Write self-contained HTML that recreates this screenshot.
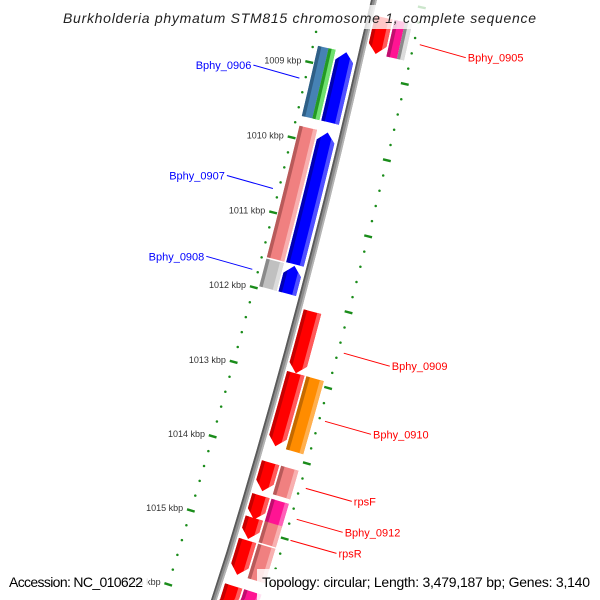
<!DOCTYPE html>
<html><head><meta charset="utf-8"><style>
html,body{margin:0;padding:0;background:#fff;width:600px;height:600px;overflow:hidden;}
svg{display:block;font-family:"Liberation Sans",sans-serif;}
</style></head><body>
<svg id="map" width="600" height="600" viewBox="0 0 600 600">
  <g id="plot"></g>
  <rect x="58" y="5" width="484" height="24" fill="#fff" fill-opacity="0.78"/>
  <text x="63" y="23" font-size="14" font-style="italic" fill="#222" textLength="473" lengthAdjust="spacing">Burkholderia phymatum STM815 chromosome 1, complete sequence</text>
  <rect x="4" y="572" width="144" height="28" fill="#fff" fill-opacity="0.82"/>
  <text x="9" y="587" font-size="14" fill="#000" textLength="134" lengthAdjust="spacing">Accession: NC_010622</text>
  <rect x="257" y="569" width="339" height="31" fill="#fff" fill-opacity="0.82"/>
  <text x="262" y="587" font-size="14" fill="#000" textLength="328" lengthAdjust="spacing">Topology: circular; Length: 3,479,187 bp; Genes: 3,140</text>
</svg>
<script>
// ---- data ----
const fwdStarts = [1008.23, 1012.11, 1012.93, 1014.12, 1014.56, 1014.86, 1015.16, 1015.77];
const fwdEnds   = [1008.71, 1012.93, 1013.90, 1014.50, 1014.88, 1015.14, 1015.62, 1016.40];
const fwdCog    = ['magenta-gray', null, 'orange', 'pink', 'magenta', 'pink', 'pink', 'magenta'];
const revStarts = [1008.77, 1009.83, 1011.60];
const revEnds   = [1009.70, 1011.58, 1011.97];
const revCog    = ['steelblue-green', 'pink', 'gray'];
const labelNames = ['Bphy_0905','Bphy_0906','Bphy_0907','Bphy_0908','Bphy_0909','Bphy_0910','rpsF','Bphy_0912','rpsR'];
const labelKbp   = [1008.47, 1009.23, 1010.70, 1011.78, 1012.52, 1013.42, 1014.31, 1014.72, 1015.00];
const labelSide  = [1, -1, -1, -1, 1, 1, 1, 1, 1];
const majorTicks = [1008, 1009, 1010, 1011, 1012, 1013, 1014, 1015, 1016];

// ---- geometry ----
const NS = 'http://www.w3.org/2000/svg';
const svg = document.getElementById('plot');
const A = {x:357, y:73}, E = {x:215, y:599}, R = 7000, K0 = 1009, K1 = 1016;
const L = Math.hypot(E.x-A.x, E.y-A.y);
const ux = (E.x-A.x)/L, uy = (E.y-A.y)/L;
const h = Math.sqrt(R*R - L*L/4);
const C = {x:(A.x+E.x)/2 - h*uy, y:(A.y+E.y)/2 + h*ux};
if (C.x > A.x) { C.x = (A.x+E.x)/2 + h*uy; C.y = (A.y+E.y)/2 - h*ux; }
const phiA = Math.atan2(A.y-C.y, A.x-C.x), phiE = Math.atan2(E.y-C.y, E.x-C.x);
function phi(k){ return phiA + (k-K0)/(K1-K0)*(phiE-phiA); }
function P(k, r){ const a = phi(k); return [C.x+(R+r)*Math.cos(a), C.y+(R+r)*Math.sin(a)]; }
function inFrame(p){ return p[0]>=0 && p[0]<=600 && p[1]>=0 && p[1]<=600; }

function el(tag, attrs, parent){ const e = document.createElementNS(NS, tag); for (const k in attrs) e.setAttribute(k, attrs[k]); (parent||svg).appendChild(e); return e; }

const HEAD = 0.12;
function bandPts(k0, k1, ra, rb, r0, r1, dir){
  const rm = (r0+r1)/2, hw = (r1-r0)/2;
  const head = Math.min(HEAD, (k1-k0)*0.9);
  const kS = r => dir < 0 ? k0 + head*Math.abs(r-rm)/hw : k0;
  const kE = r => dir > 0 ? k1 - head*Math.abs(r-rm)/hw : k1;
  const pts = [];
  const n = 12;
  for (let i=0;i<=n;i++){ const a=kS(ra), b=kE(ra); pts.push(P(a+(b-a)*i/n, ra)); }
  if (dir > 0 && rm > ra && rm < rb) pts.push(P(kE(rm), rm));
  for (let i=0;i<=n;i++){ const a=kE(rb), b=kS(rb); pts.push(P(a+(b-a)*i/n, rb)); }
  if (dir < 0 && rm > ra && rm < rb) pts.push(P(kS(rm), rm));
  return pts.map(p=>{
    const x = Math.max(0, Math.min(600, p[0])), y = Math.max(0, Math.min(600, p[1]));
    return x.toFixed(2)+','+y.toFixed(2);
  }).join(' ');
}
function drawBand(g, k0, k1, r0, r1, dir, fill, dark, light){
  el('polygon', {points: bandPts(k0,k1,r0,r1,r0,r1,dir), fill: fill}, g);
  if (dark) el('polygon', {points: bandPts(k0,k1,r0,r0+3.5,r0,r1,dir), fill: dark}, g);
  if (light) el('polygon', {points: bandPts(k0,k1,r1-4,r1,r0,r1,dir), fill: light}, g);
}
const COL = {
  red:['#ff0000','#c80000','#ff5a5a'], blue:['#0000ff','#0000b4','#5050ff'],
  pink:['#f08080','#b85a5a','#f8b0b0'], orange:['#ff8c00','#c46a00','#ffb050'],
  magenta:['#ff1493','#c00e6e','#ff60b8'], gray:['#c0c0c0','#8a8a8a','#dcdcdc'],
  steelblue:['#4682b4','#2f5f86','#6d9ccc'], green:['#32cd32','#239a23','#70e070']
};

// ---- tick rings ----
const gTicks = el('g', {});


[-49, 49].forEach(rr => {
  for (let i=0; i<=45; i++){
    const k = 1007.6 + i*0.2;
    if (Math.abs(k - Math.round(k)) < 0.01) continue;
    const p = P(k, rr);
    if (!inFrame([p[0], p[1]-2]) || !inFrame([p[0], p[1]+2])) continue;
    const d = el('circle', {cx:p[0].toFixed(2), cy:p[1].toFixed(2), r:1.25, fill:'#1a8c1a'}, gTicks);
    
    
  }
  majorTicks.forEach(k => {
    const a = P(k, rr-4), b = P(k, rr+4);
    if (!inFrame(a) || !inFrame(b)) return;
    const t = el('line', {x1:a[0],y1:a[1],x2:b[0],y2:b[1],stroke:'#1a8c1a','stroke-width':2.4}, gTicks);
    
    
  });
});
majorTicks.forEach(k => {
  const p = P(k, -57);
  if (p[1] < 10 || p[1] > 596) return;
  const t = el('text', {x:p[0].toFixed(1), y:(p[1]+3).toFixed(1), 'text-anchor':'end', 'font-size':'9', fill:'#333'}, gTicks);
  t.textContent = k + ' kbp';
  
  
});

// ---- backbone ----
const gBB = el('g', {});


el('polygon', {points: bandPts(1008.0,1016.05,-3,3,-3,3,0), fill:'#8c8c8c'}, gBB);
el('polygon', {points: bandPts(1008.0,1016.05,-3,-1.2,-3,3,0), fill:'#5a5a5a'}, gBB);
el('polygon', {points: bandPts(1008.0,1016.05,1.2,3,-3,3,0), fill:'#b4b4b4'}, gBB);

// ---- features ----
function cogDraw(g, k0, k1, r0, r1, cog){
  if (!cog) return;
  const parts = cog.split('-');
  if (parts.length === 1){ const c = COL[parts[0]]; drawBand(g,k0,k1,r0,r1,0,c[0],c[1],c[2]); }
  else {
    const m = r0 + (r1-r0)*0.6;
    const c1 = COL[parts[0]], c2 = COL[parts[1]];
    drawBand(g,k0,k1,r0,m,0,c1[0],c1[1],null);
    drawBand(g,k0,k1,m,r1,0,c2[0],c2[1],c2[2]);
  }
}
fwdStarts.forEach((s,i) => {
  const g = el('g', {});
  
  
  const c = COL.red;
  drawBand(g, s, fwdEnds[i], 5, 23, 1, c[0], c[1], c[2]);
  cogDraw(g, s, fwdEnds[i], 25, 43, fwdCog[i]);
});
revStarts.forEach((s,i) => {
  const g = el('g', {});
  
  
  const c = COL.blue;
  drawBand(g, s, revEnds[i], -24, -6, -1, c[0], c[1], c[2]);
  cogDraw(g, s, revEnds[i], -44, -26, revCog[i]);
});

// ---- gene labels ----
labelNames.forEach((name,i) => {
  const side = labelSide[i];
  const p = P(labelKbp[i], 55*side);
  const q = [p[0] + 46*side, p[1] + 13*side];
  const col = side > 0 ? '#ff0000' : '#0000ff';
  const ln = el('line', {x1:p[0].toFixed(1),y1:p[1].toFixed(1),x2:q[0].toFixed(1),y2:q[1].toFixed(1),stroke:col,'stroke-width':1});
  
  
  const t = el('text', {x:(q[0]+2*side).toFixed(1), y:(q[1]+4).toFixed(1), 'text-anchor': side>0?'start':'end', 'font-size':'11', fill:col});
  t.textContent = name;
  
  
});
</script>
</body></html>
